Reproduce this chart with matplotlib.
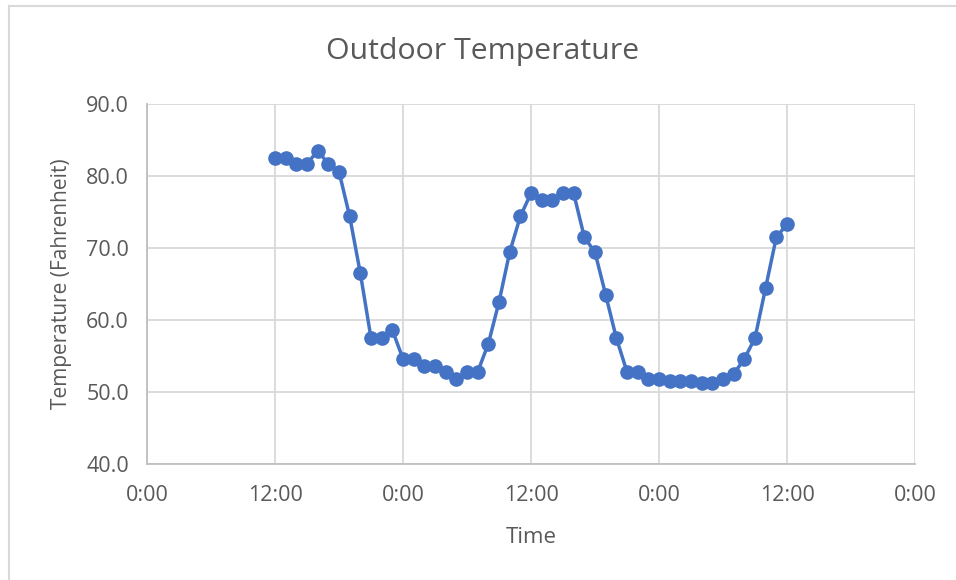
import matplotlib
matplotlib.use("Agg")
import matplotlib.pyplot as plt
from matplotlib.lines import Line2D

plt.rcParams['font.family'] = ['Open Sans', 'DejaVu Sans']

hours = list(range(12, 61))
temps = [82.5, 82.5, 81.7, 81.7, 83.5, 81.7, 80.6, 74.4, 66.5, 57.5,
         57.5, 58.6, 54.6, 54.6, 53.6, 53.6, 52.8, 51.8, 52.8, 52.8,
         56.7, 62.5, 69.4, 74.4, 77.6, 76.7, 76.7, 77.6, 77.6, 71.5,
         69.4, 63.5, 57.5, 52.8, 52.8, 51.8, 51.8, 51.5, 51.5, 51.5,
         51.2, 51.2, 51.8, 52.5, 54.6, 57.5, 64.5, 71.5, 73.3]
xticks = [0, 12, 24, 36, 48, 60, 72]
xtick_labels = ["0:00", "12:00", "0:00", "12:00", "0:00", "12:00", "0:00"]
yticks = [40, 50, 60, 70, 80, 90]

W, H = 956, 580
fig = plt.figure(figsize=(W/100, H/100), dpi=100)
ax = fig.add_axes([147/W, 1-464/H, (915-147)/W, (464-104)/H])

txt = '#595959'
grid = '#d9d9d9'
blue = '#4472c4'

ax.plot(hours, temps, color=blue, lw=2.5, marker='o', ms=9.5, zorder=3, clip_on=False)
ax.set_xlim(0, 72)
ax.set_ylim(40, 90)
ax.set_xticks(xticks)
ax.set_xticklabels(xtick_labels)
ax.set_yticks(yticks)
ax.set_yticklabels([f"{v:.1f}" for v in yticks])
ax.grid(True, color=grid, lw=1.3)
ax.set_axisbelow(True)
for s in ['top', 'right']:
    ax.spines[s].set_visible(False)
for s in ['left', 'bottom']:
    ax.spines[s].set_color('#bfbfbf')
    ax.spines[s].set_linewidth(1.3)
ax.tick_params(length=0, labelsize=15.5, colors=txt)
ax.tick_params(axis='x', pad=15)
ax.tick_params(axis='y', pad=13)
ax.set_xlabel("Time", fontsize=16, color=txt, labelpad=15)
ax.set_ylabel("Temperature (Fahrenheit)", fontsize=15, color=txt, labelpad=10)
fig.text(483/W, 1-52/H, "Outdoor Temperature", ha='center', va='center',
         fontsize=21.8, color=txt)

fig.add_artist(Line2D([9/W, 9/W], [0, 1-6/H], color='#d9d9d9', lw=1.5))
fig.add_artist(Line2D([9/W, 1], [1-6/H, 1-6/H], color='#d9d9d9', lw=1.5))

fig.savefig("out.png", dpi=100)
